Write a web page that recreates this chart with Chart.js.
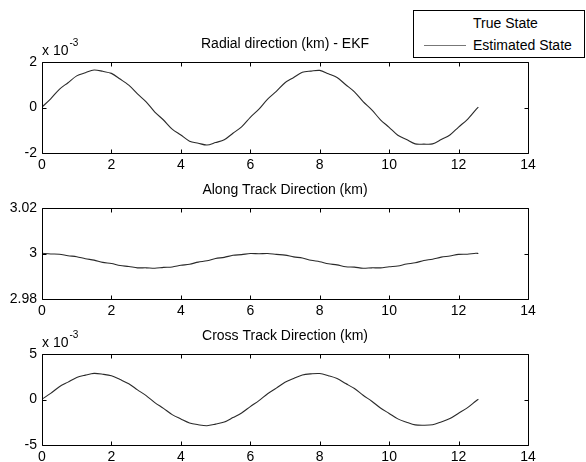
<!DOCTYPE html>
<html>
<head>
<meta charset="utf-8">
<script src="https://cdn.jsdelivr.net/npm/chart.js@4.4.0/dist/chart.umd.min.js"></script>
<style>
  html, body { margin: 0; padding: 0; background: #fff; }
  #wrap { position: relative; width: 586px; height: 462px; overflow: hidden; font-family: 'Liberation Sans', Arial, sans-serif; }
  canvas { position: absolute; left: 0; }
  #legend { position: absolute; left: 413px; top: 10px; width: 170px; height: 46px; border: 1px solid #000; background: #fff; font-size: 14px; color: #000; }
  #legend .lbl { position: absolute; left: 59px; white-space: nowrap; }
  #legend .swatch { position: absolute; left: 10px; width: 42px; top: 34px; border-top: 1px solid #777; }
</style>
</head>
<body>
<div id="wrap">
  <canvas id="c1" width="586" height="166" style="top:20px"></canvas>
  <canvas id="c2" width="586" height="166" style="top:166px"></canvas>
  <canvas id="c3" width="586" height="150" style="top:312px"></canvas>
  <div id="legend">
    <span class="lbl" style="top:4px">True State</span>
    <span class="swatch"></span>
    <span class="lbl" style="top:26px">Estimated State</span>
  </div>
</div>
<script>
(function () {
  // time axis (x), shared by all three plots
  const X = [0, 0.25, 0.5, 0.75, 1, 1.25, 1.5, 1.75, 2, 2.25, 2.5, 2.75, 3, 3.25, 3.5, 3.75,
    4, 4.25, 4.5, 4.75, 5, 5.25, 5.5, 5.75, 6, 6.25, 6.5, 6.75, 7, 7.25, 7.5, 7.75,
    8, 8.25, 8.5, 8.75, 9, 9.25, 9.5, 9.75, 10, 10.25, 10.5, 10.75, 11, 11.25, 11.5, 11.75,
    12, 12.25, 12.5, 12.57];
  const X_TICKS = [0, 2, 4, 6, 8, 10, 12, 14];

  // radial (x 10^-3 km)
  const RADIAL_TRUE = [0, 0.40, 0.78, 1.11, 1.37, 1.55, 1.63, 1.60, 1.48, 1.27, 0.97, 0.62, 0.23,
    -0.18, -0.57, -0.93, -1.23, -1.46, -1.59, -1.63, -1.56, -1.40, -1.15, -0.83, -0.45, -0.05,
    0.35, 0.73, 1.07, 1.34, 1.53, 1.62, 1.61, 1.50, 1.30, 1.02, 0.67, 0.28, -0.12, -0.52,
    -0.89, -1.20, -1.43, -1.58, -1.63, -1.58, -1.43, -1.19, -0.88, -0.51, -0.11, 0.00];
  const RADIAL_EST = [0.02, 0.38, 0.80, 1.09, 1.39, 1.53, 1.65, 1.59, 1.50, 1.25, 0.98, 0.60, 0.25,
    -0.20, -0.55, -0.95, -1.21, -1.48, -1.57, -1.65, -1.54, -1.42, -1.13, -0.85, -0.43, -0.07,
    0.37, 0.71, 1.09, 1.32, 1.55, 1.60, 1.63, 1.48, 1.32, 1.00, 0.69, 0.26, -0.10, -0.54,
    -0.87, -1.22, -1.41, -1.60, -1.61, -1.60, -1.41, -1.21, -0.86, -0.53, -0.09, 0.02];
  const RADIAL_TICKS = [-2, 0, 2];

  // along track (km)
  const ALONG_TRUE = [3.0000, 2.9999, 2.9996, 2.9991, 2.9985, 2.9978, 2.9970, 2.9962, 2.9955, 2.9948,
    2.9942, 2.9938, 2.9936, 2.9936, 2.9938, 2.9942, 2.9947, 2.9954, 2.9961, 2.9969, 2.9977, 2.9984,
    2.9991, 2.9996, 2.9999, 3.0000, 2.9999, 2.9997, 2.9992, 2.9986, 2.9979, 2.9971, 2.9963, 2.9956,
    2.9949, 2.9943, 2.9939, 2.9936, 2.9936, 2.9938, 2.9941, 2.9946, 2.9953, 2.9960, 2.9968, 2.9976,
    2.9983, 2.9990, 2.9995, 2.9998, 3.0000, 3.0000];
  const ALONG_EST = [3.0001, 2.9998, 2.9997, 2.9990, 2.9986, 2.9977, 2.9971, 2.9961, 2.9956, 2.9947,
    2.9943, 2.9937, 2.9937, 2.9935, 2.9939, 2.9941, 2.9948, 2.9953, 2.9962, 2.9968, 2.9978, 2.9983,
    2.9992, 2.9995, 3.0000, 2.9999, 3.0000, 2.9996, 2.9993, 2.9985, 2.9980, 2.9970, 2.9964, 2.9955,
    2.9950, 2.9942, 2.9940, 2.9935, 2.9937, 2.9937, 2.9942, 2.9945, 2.9954, 2.9959, 2.9969, 2.9975,
    2.9984, 2.9989, 2.9996, 2.9997, 3.0001, 3.0000];
  const ALONG_TICKS = [2.98, 3, 3.02];

  // cross track (x 10^-3 km)
  const CROSS_TRUE = [0, 0.70, 1.37, 1.94, 2.40, 2.70, 2.84, 2.80, 2.59, 2.22, 1.70, 1.09, 0.40,
    -0.31, -1.00, -1.63, -2.16, -2.55, -2.79, -2.85, -2.73, -2.45, -2.01, -1.45, -0.80, -0.09,
    0.61, 1.28, 1.87, 2.35, 2.67, 2.84, 2.82, 2.63, 2.27, 1.78, 1.17, 0.50, -0.21, -0.91,
    -1.55, -2.10, -2.51, -2.76, -2.85, -2.76, -2.49, -2.07, -1.53, -0.89, -0.19, 0.00];
  const CROSS_EST = [0.04, 0.67, 1.40, 1.91, 2.43, 2.68, 2.87, 2.78, 2.61, 2.19, 1.73, 1.06, 0.43,
    -0.34, -0.98, -1.66, -2.14, -2.58, -2.77, -2.88, -2.71, -2.48, -1.99, -1.48, -0.78, -0.12,
    0.63, 1.25, 1.90, 2.32, 2.70, 2.82, 2.85, 2.61, 2.30, 1.75, 1.20, 0.47, -0.19, -0.94,
    -1.53, -2.13, -2.49, -2.79, -2.83, -2.78, -2.47, -2.10, -1.51, -0.92, -0.16, 0.03];
  const CROSS_TICKS = [-5, 0, 5];

  const FONT = "'Liberation Sans', Arial, sans-serif";
  const AREA_TOP = 42, AREA_H = 91, AREA_LEFT = 42, AREA_RIGHT = 528;

  // MATLAB-like box: frame, inward ticks, title and exponent label
  const boxPlugin = {
    id: 'box',
    afterDatasetsDraw(chart, args, opts) {
      const { ctx, chartArea: a, scales: { x, y } } = chart;
      const L = Math.round(a.left) + 0.5, R = Math.round(a.right) + 0.5;
      const T = Math.round(a.top) + 0.5, B = Math.round(a.bottom) + 0.5;
      ctx.save();
      ctx.strokeStyle = '#000';
      ctx.lineWidth = 1;
      ctx.beginPath();
      ctx.rect(L, T, R - L, B - T);
      x.ticks.forEach(t => {
        const px = Math.round(x.getPixelForValue(t.value)) + 0.5;
        ctx.moveTo(px, B); ctx.lineTo(px, B - 4);
        ctx.moveTo(px, T); ctx.lineTo(px, T + 4);
      });
      y.ticks.forEach(t => {
        const py = Math.round(y.getPixelForValue(t.value)) + 0.5;
        ctx.moveTo(L, py); ctx.lineTo(L + 4, py);
        ctx.moveTo(R, py); ctx.lineTo(R - 4, py);
      });
      ctx.stroke();

      ctx.fillStyle = '#000';
      ctx.font = '14px ' + FONT;
      ctx.textAlign = 'center';
      ctx.textBaseline = 'middle';
      ctx.fillText(opts.title, (a.left + a.right) / 2, a.top - 18);

      if (opts.exp) {
        ctx.textAlign = 'left';
        ctx.fillText('x 10', a.left, a.top - 11);
        const w = ctx.measureText('x 10').width;
        ctx.font = '10px ' + FONT;
        ctx.fillText(opts.exp, a.left + w + 1, a.top - 19);
      }
      ctx.restore();
    },
  };

  function points(ys) {
    return X.map((v, i) => ({ x: v, y: ys[i] }));
  }

  function makeChart(id, trueY, estY, yTicks, fmt, title, exp) {
    const canvas = document.getElementById(id);
    const xHeight = canvas.height - AREA_TOP - AREA_H;
    return new Chart(canvas, {
      type: 'line',
      data: {
        datasets: [
          { label: 'True State', data: points(trueY), borderColor: '#ffffff',
            borderWidth: 1, pointRadius: 0, tension: 0.3, order: 2 },
          { label: 'Estimated State', data: points(estY), borderColor: '#2a2a2a',
            borderWidth: 1.1, pointRadius: 0, tension: 0.3, order: 1 },
        ],
      },
      options: {
        responsive: false,
        animation: false,
        devicePixelRatio: 1,
        layout: { padding: { left: 0, right: 586 - AREA_RIGHT, top: AREA_TOP, bottom: 0 } },
        plugins: {
          legend: { display: false },
          tooltip: { enabled: false },
          box: { title: title, exp: exp },
        },
        scales: {
          x: {
            type: 'linear', min: 0, max: 14,
            afterBuildTicks: s => { s.ticks = X_TICKS.map(v => ({ value: v })); },
            afterFit: s => { s.height = xHeight; },
            grid: { display: false, drawTicks: false },
            border: { display: false },
            ticks: { color: '#000', font: { family: FONT, size: 14 }, padding: 4, maxRotation: 0 },
          },
          y: {
            min: yTicks[0], max: yTicks[yTicks.length - 1],
            afterBuildTicks: s => { s.ticks = yTicks.map(v => ({ value: v })); },
            afterFit: s => { s.width = AREA_LEFT; },
            grid: { display: false, drawTicks: false },
            border: { display: false },
            ticks: { color: '#000', font: { family: FONT, size: 14 }, padding: 5, callback: fmt },
          },
        },
      },
      plugins: [boxPlugin],
    });
  }

  const plain = v => String(v);
  makeChart('c1', RADIAL_TRUE, RADIAL_EST, RADIAL_TICKS, plain, 'Radial direction (km) - EKF', '-3');
  makeChart('c2', ALONG_TRUE, ALONG_EST, ALONG_TICKS, v => String(Math.round(v * 100) / 100),
    'Along Track Direction (km)', null);
  makeChart('c3', CROSS_TRUE, CROSS_EST, CROSS_TICKS, plain, 'Cross Track Direction (km)', '-3');
})();
</script>
</body>
</html>
